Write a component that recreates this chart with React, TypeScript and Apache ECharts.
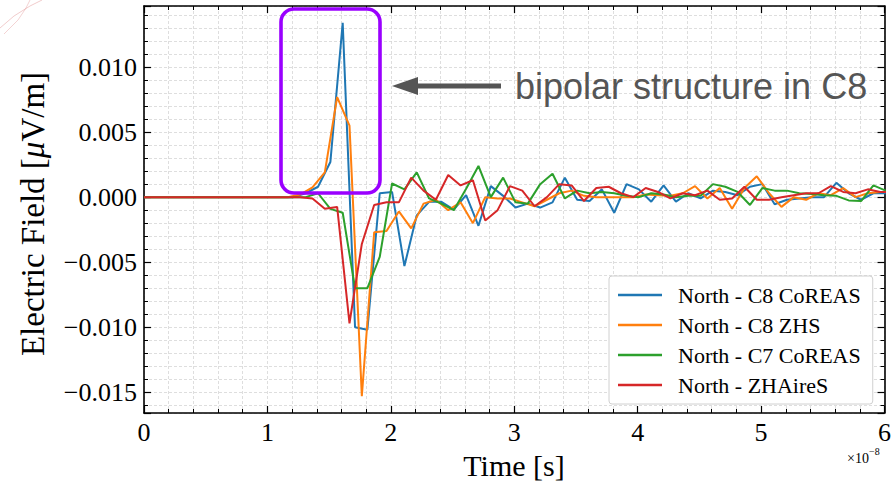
import { useEffect, useRef } from 'react';
import * as echarts from 'echarts';

// Time in units of 1e-8 s
const timeA = [0, 1.21, 1.31, 1.41, 1.51, 1.61, 1.71, 1.81, 1.91, 2.01, 2.11, 2.21, 2.31, 2.41, 2.51, 2.61, 2.71, 2.81, 2.91, 3.01, 3.11, 3.21, 3.31, 3.41, 3.51, 3.61, 3.71, 3.81, 3.91, 4.01, 4.11, 4.21, 4.31, 4.41, 4.51, 4.61, 4.71, 4.81, 4.91, 5.01, 5.11, 5.21, 5.31, 5.41, 5.51, 5.61, 5.71, 5.81, 5.91, 6.01];
const timeB = [0, 1.165, 1.265, 1.365, 1.465, 1.565, 1.665, 1.765, 1.865, 1.965, 2.065, 2.165, 2.265, 2.365, 2.465, 2.565, 2.665, 2.765, 2.865, 2.965, 3.065, 3.165, 3.265, 3.365, 3.465, 3.565, 3.665, 3.765, 3.865, 3.965, 4.065, 4.165, 4.265, 4.365, 4.465, 4.565, 4.665, 4.765, 4.865, 4.965, 5.065, 5.165, 5.265, 5.365, 5.465, 5.565, 5.665, 5.765, 5.865, 5.965, 6.065];

const c8Coreas = [0, 0, 0.0003, 0.0008, 0.0027, 0.0134, -0.0100, -0.0102, 0.0003, 0.0004, -0.0053, -0.0014, -0.00036, -0.00036, -0.00095, 0.00015, -0.0022, 0.00085, 0.0001, -0.0008, -0.0005, -0.0008, -0.0004, 0.0015, -0.0002, -0.0003, 0.0006, -0.0012, 0.001, 0.0006, -0.00035, 0.0009, -0.00035, 0.0003, -0.0001, 0.0005, 0.0004, 0.00015, 0.0008, 0.001, -0.00055, -0.0002, -0.0001, 0, 0, 0.0011, 0.0003, -0.0002, 0.0003, 0.0003];
const c8Zhs = [0, 0, 0.0002, 0.00075, 0.0019, 0.0077, 0.0055, -0.0153, -0.0027, -0.0026, -0.0011, -0.0024, -0.0005, -0.0002, -0.001, -0.0004, -0.002, 0.0, -0.0001, -0.0001, -0.0004, -0.0007, -0.0002, 0.0003, 0.0005, 0.0001, 0.0, 0.0, 0.0, 0.0, 0.0002, 0.00015, 0.0001, 0.0003, 0.00085, -0.0001, 0.0007, -0.0009, 0.0007, 0.0016, 0.0003, -0.00075, 0.0, -0.0002, 0.0003, 0.00015, 0.0007, 0.0, 0.0003, 0.0004, 0.0004];
const c7Coreas = [0, 0, 0, 0.0003, -0.0009, -0.0012, -0.0070, -0.0070, -0.0046, 0.00105, 0.0006, 0.0019, -0.0001, -0.0005, -0.001, 0.00065, 0.0024, 0.0, 0.0015, -0.0004, -0.0005, 0.001, 0.0018, -0.0001, 0.0005, 0.0003, 0.0004, 0.0003, 0.0001, 0.0, 0.0003, 0.0002, 0.0, 0.0001, 0.0001, 0.001, 0.0008, 0.0004, -0.0006, 0.0007, 0.0005, 0.0005, 0.0003, 0.00025, 0.00015, 0.0001, -0.00025, -0.0003, 0.0009, 0.0005];
const zhaires = [0, 0, 0, -0.0001, -0.0009, -0.00075, -0.0097, -0.0036, -0.0006, -0.0004, -0.0004, 0.0015, 0.0005, -0.0002, 0.0017, 0.0009, 0.0013, -0.0018, -0.001, 0.00085, 0.0005, -0.0007, 0.0, 0.001, 0.0009, -0.0003, 0.0007, 0.0008, 0.0003, 0.0, 0.0007, 0.0004, -0.0001, 0.0003, 0.00015, 0.0005, -0.0002, -0.0001, 0.0008, -0.0002, -0.0002, 0.0, 0.00015, 0.0003, 0.0003, 0.00085, 0.0004, 0.0003, 0.0006, 0.0004, 0.0004];

const seriesNames = ['North - C8 CoREAS', 'North - C8 ZHS', 'North - C7 CoREAS', 'North - ZHAireS'];
const seriesColors = ['#1f77b4', '#ff7f0e', '#2ca02c', '#d62728'];
const seriesTimes = [timeA, timeB, timeA, timeB];
const seriesValues = [c8Coreas, c8Zhs, c7Coreas, zhaires];

const xTitle = 'Time [s]';
const yTitle = 'Electric Field [{i|μ}V/m]';
const annotation = 'bipolar structure in C8';

export default function App() {
  const ref = useRef<HTMLDivElement>(null);
  useEffect(() => {
    document.body.style.margin = '0';
    const chart = echarts.init(ref.current!, null, { renderer: 'svg' });
    const serif = '"Liberation Serif", "Times New Roman", serif';
    const gridLine = { show: true, lineStyle: { color: '#d6d6d6', type: [3, 2], width: 0.8 } };
    const axisLine = { show: true, onZero: false, lineStyle: { color: '#000', width: 1.6 } };
    const tick = { show: true, inside: true, length: 7, lineStyle: { color: '#000', width: 1.2 } };
    const minor = { show: true, splitNumber: 5, length: 4, lineStyle: { color: '#000', width: 1 } };
    const xCommon = { type: 'value', min: 0, max: 6, interval: 1, axisLine, axisTick: tick, minorTick: minor };
    const yCommon = { type: 'value', min: -0.0166, max: 0.0147, splitNumber: 6, axisLine, axisTick: tick, minorTick: minor };
    const fmtY = (v: number) => (v < -1e-9 ? '\u2212' : '') + Math.abs(v).toFixed(3);

    chart.setOption({
      animation: false,
      backgroundColor: '#fff',
      grid: { left: 144, right: 8, top: 6, bottom: 74, containLabel: false },
      xAxis: [
        {
          ...xCommon,
          position: 'bottom',
          axisLabel: { show: true, fontFamily: serif, fontSize: 26, color: '#000', margin: 6, formatter: (v: number) => String(v) },
          splitLine: gridLine,
          minorSplitLine: gridLine,
        },
        {
          ...xCommon,
          position: 'top',
          axisLabel: { show: false },
          splitLine: { show: false },
        },
      ],
      yAxis: [
        {
          ...yCommon,
          position: 'left',
          axisLabel: { show: true, fontFamily: serif, fontSize: 26, color: '#000', margin: 7, formatter: fmtY, showMinLabel: false, showMaxLabel: false },
          splitLine: gridLine,
          minorSplitLine: gridLine,
        },
        {
          ...yCommon,
          position: 'right',
          axisLabel: { show: false },
          splitLine: { show: false },
        },
      ],
      legend: {
        orient: 'vertical',
        left: 609,
        top: 276,
        icon: 'rect',
        itemWidth: 44,
        itemHeight: 2.5,
        itemGap: 8,
        padding: [8, 12, 8, 9],
        backgroundColor: '#fff',
        borderColor: '#d0d0d0',
        borderWidth: 1,
        borderRadius: 3,
        textStyle: { fontFamily: serif, fontSize: 22, color: '#000', lineHeight: 22, padding: [0, 0, 0, 11] },
        data: seriesNames,
      },
      series: seriesNames.map((name, i) => ({
        name,
        type: 'line',
        xAxisIndex: 0,
        yAxisIndex: 0,
        showSymbol: false,
        symbol: 'none',
        clip: true,
        color: seriesColors[i],
        lineStyle: { color: seriesColors[i], width: 2 },
        emphasis: { disabled: true },
        data: seriesTimes[i].map((t, k) => [t, seriesValues[i][k]]),
      })),
      graphic: [
        {
          type: 'polyline', z: 1, silent: true,
          shape: { points: [[0, 28], [14, 16], [30, 6], [42, 0]] },
          style: { stroke: 'rgba(215,110,110,0.35)', lineWidth: 1, fill: 'none' },
        },
        {
          type: 'polyline', z: 1, silent: true,
          shape: { points: [[4, 34], [18, 20], [26, 8], [30, 0]] },
          style: { stroke: 'rgba(215,110,110,0.3)', lineWidth: 1, fill: 'none' },
        },
        {
          type: 'text', x: 514, y: 465, z: 100,
          style: { text: xTitle, font: `30px ${serif}`, fill: '#000', textAlign: 'center', textVerticalAlign: 'middle' },
        },
        {
          type: 'text', x: 33, y: 214, rotation: Math.PI / 2, z: 100,
          style: {
            text: yTitle, fontFamily: serif, fontSize: 33, fill: '#000', textAlign: 'center', textVerticalAlign: 'middle',
            rich: { i: { fontFamily: serif, fontSize: 33, fontStyle: 'italic', fill: '#000' } },
          },
        },
        {
          type: 'text', x: 869, y: 458, z: 100,
          style: { text: '\u00d710', font: `14px ${serif}`, fill: '#000', textAlign: 'right', textVerticalAlign: 'middle' },
        },
        {
          type: 'text', x: 869, y: 451, z: 100,
          style: { text: '\u22128', font: `10px ${serif}`, fill: '#000', textAlign: 'left', textVerticalAlign: 'middle' },
        },
        {
          type: 'rect', z: 100,
          shape: { x: 281, y: 9, width: 99, height: 184, r: 13 },
          style: { fill: 'none', stroke: '#9a00ff', lineWidth: 3.6 },
        },
        {
          type: 'polygon', z: 100,
          shape: { points: [[392, 86], [418, 77], [418, 95]] },
          style: { fill: '#555555' },
        },
        {
          type: 'rect', z: 100,
          shape: { x: 416, y: 83.5, width: 85, height: 5 },
          style: { fill: '#555555' },
        },
        {
          type: 'text', x: 515, y: 86, z: 100,
          style: { text: annotation, font: '36px "Liberation Sans", Arial, sans-serif', fill: '#555555', textAlign: 'left', textVerticalAlign: 'middle' },
        },
      ],
    });
    return () => chart.dispose();
  }, []);
  return <div ref={ref} style={{ width: 894, height: 487 }} />;
}
